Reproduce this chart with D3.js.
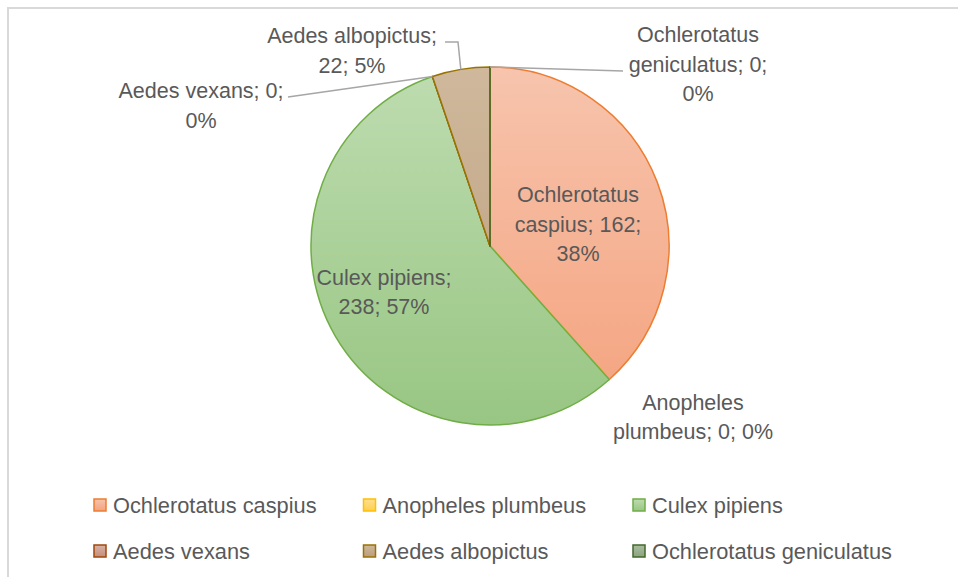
<!DOCTYPE html>
<html>
<head>
<meta charset="utf-8">
<script src="https://cdn.jsdelivr.net/npm/d3@7"></script>
<style>
  body { margin: 0; background: #fff; }
  svg { display: block; font-family: "Liberation Sans", Arial, sans-serif; }
</style>
</head>
<body>
<svg id="chart" width="958" height="577"></svg>
<script>
// species in drawing order (clockwise from 12 o'clock)
const species = ["Ochlerotatus caspius", "Anopheles plumbeus", "Culex pipiens",
                 "Aedes vexans", "Aedes albopictus", "Ochlerotatus geniculatus"];
const counts = [162, 0, 238, 0, 22, 0];
const percentLabels = ["38%", "0%", "57%", "0%", "5%", "0%"];

const strokeColors = ["#ed7d31", "#ffc000", "#70ad47", "#9e480e", "#997300", "#43682b"];
const lightColors  = ["#f7c4ad", "#ffe08e", "#bedcb0", "#d9b2a4", "#cfb89c", "#a9bd9f"];
const darkColors   = ["#f4a27d", "#ffcd50", "#98c683", "#c48e7b", "#bb9d7b", "#8ba47e"];

// data label text, split into lines the way the chart wraps them
const labelLines = [
    ["Ochlerotatus", "caspius; 162;", "38%"],
    ["Anopheles", "plumbeus; 0; 0%"],
    ["Culex pipiens;", "238; 57%"],
    ["Aedes vexans; 0;", "0%"],
    ["Aedes albopictus;", "22; 5%"],
    ["Ochlerotatus", "geniculatus; 0;", "0%"]
];

const svg = d3.select("#chart");
const width = 958, height = 577;
const cx = 490, cy = 246, radius = 179;
const lineH = 29.5;
const textColor = "#595959";

// outer chart border (only top and left visible in frame)
svg.append("rect")
    .attr("x", 8).attr("y", 8)
    .attr("width", width + 20).attr("height", height + 20)
    .attr("fill", "none")
    .attr("stroke", "#d9d9d9")
    .attr("stroke-width", 2);

const defs = svg.append("defs");
species.forEach((s, i) => {
    const g = defs.append("linearGradient")
        .attr("id", "pie" + i)
        .attr("gradientUnits", "userSpaceOnUse")
        .attr("x1", 0).attr("y1", -radius).attr("x2", 0).attr("y2", radius);
    g.append("stop").attr("offset", "0%").attr("stop-color", lightColors[i]);
    g.append("stop").attr("offset", "100%").attr("stop-color", darkColors[i]);

    const g2 = defs.append("linearGradient")
        .attr("id", "leg" + i)
        .attr("x1", 0).attr("y1", 0).attr("x2", 0).attr("y2", 1);
    g2.append("stop").attr("offset", "0%").attr("stop-color", lightColors[i]);
    g2.append("stop").attr("offset", "100%").attr("stop-color", darkColors[i]);
});

const data = species.map((s, i) => ({ name: s, value: counts[i], i: i }));

const pie = d3.pie().sort(null).value(d => d.value);
const arcs = pie(data);
const arc = d3.arc().innerRadius(0).outerRadius(radius);

const g = svg.append("g").attr("transform", `translate(${cx},${cy})`);

g.selectAll("path.slice")
    .data(arcs)
    .join("path")
    .attr("class", "slice")
    .attr("d", arc)
    .attr("fill", d => `url(#pie${d.data.i})`)
    .attr("stroke", d => strokeColors[d.data.i])
    .attr("stroke-width", 1.5)
    .attr("stroke-linejoin", "round");

// point on the rim at a given angle
const rim = a => d3.pointRadial(a, radius);

// label anchors (centre of text block, relative to pie centre) and leader start points
const labelPos = [
    { x: 88,   y: -22 },
    { x: 203,  y: 171 },
    { x: -106, y: 46 },
    { x: -289, y: -141 },
    { x: -138, y: -196 },
    { x: 208,  y: -182 }
];
const leaderFrom = [null, null, null, [-202, -149], [-45, -204], [133, -175]];
const leaderKnee = [null, null, null, null, [-32, -204], null];
const leaderAngle = arcs.map(d => (d.startAngle + d.endAngle) / 2);

// leader lines
arcs.forEach((d, k) => {
    if (!leaderFrom[k]) return;
    const pts = [leaderFrom[k]];
    if (leaderKnee[k]) pts.push(leaderKnee[k]);
    pts.push(rim(leaderAngle[k]));
    g.append("path")
        .attr("d", d3.line()(pts))
        .attr("fill", "none")
        .attr("stroke", "#a6a6a6")
        .attr("stroke-width", 1.5);
});

// data labels
labelLines.forEach((lines, k) => {
    const p = labelPos[k];
    const t = g.append("text")
        .attr("text-anchor", "middle")
        .attr("fill", textColor)
        .attr("font-size", 21.5);
    lines.forEach((ln, j) => {
        t.append("tspan")
            .attr("x", p.x)
            .attr("y", p.y + (j - (lines.length - 1) / 2) * lineH)
            .attr("dy", "0.36em")
            .text(ln);
    });
});

// legend
const legendCols = d3.scalePoint().domain([0, 1, 2]).range([93, 632]);
const legendRows = d3.scalePoint().domain([0, 1]).range([505, 551]);
const legend = svg.append("g");
const item = legend.selectAll("g")
    .data(species)
    .join("g")
    .attr("transform", (d, i) => `translate(${legendCols(i % 3)},${legendRows(Math.floor(i / 3))})`);

item.append("rect")
    .attr("x", 1).attr("y", -6)
    .attr("width", 12).attr("height", 12)
    .attr("fill", (d, i) => `url(#leg${i})`)
    .attr("stroke", (d, i) => strokeColors[i])
    .attr("stroke-width", 1.5);

item.append("text")
    .attr("x", 20)
    .attr("dy", "0.36em")
    .attr("fill", textColor)
    .attr("font-size", 21.8)
    .text(d => d);
</script>
</body>
</html>
